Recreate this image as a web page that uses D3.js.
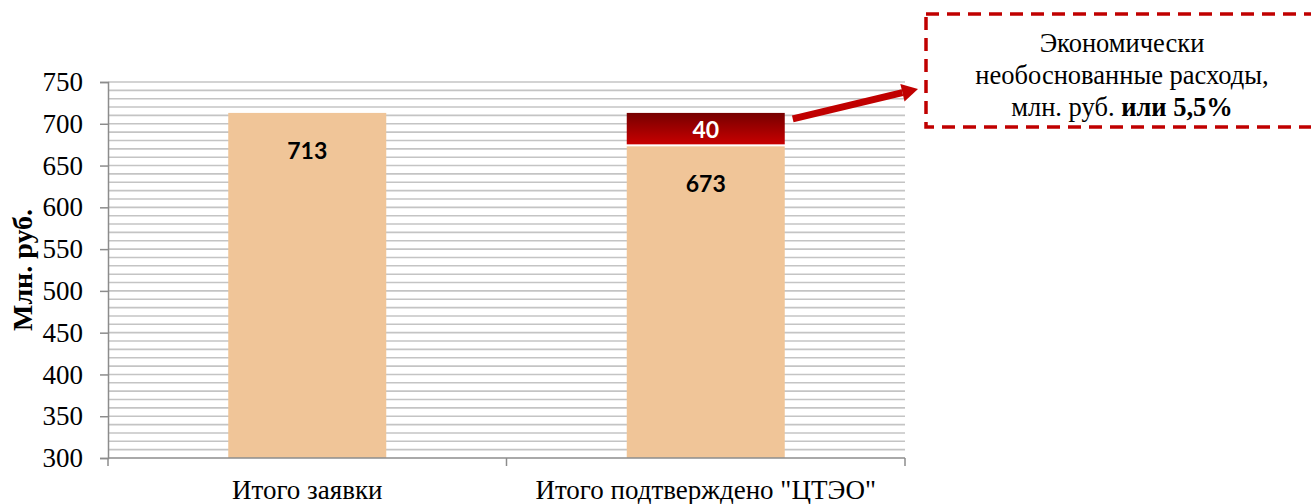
<!DOCTYPE html>
<html>
<head>
<meta charset="utf-8">
<script src="https://cdn.jsdelivr.net/npm/d3@7"></script>
<style>
  body { margin: 0; background: #fff; }
  svg text { font-family: "Liberation Serif", "Times New Roman", serif; }
</style>
</head>
<body>
<div id="chart"></div>
<script>
var categories = ['Итого заявки', 'Итого подтверждено "ЦТЭО"'];
var confirmed = [713, 673];
var excess = [0, 40];
var yTicks = [300, 350, 400, 450, 500, 550, 600, 650, 700, 750];

var W = 1311, H = 504;
var margin = {left: 108, right: 406, top: 82, bottom: 46};
var serif = '"Liberation Serif", "Times New Roman", serif';
var sans = 'Lato, "Open Sans", sans-serif';

var svg = d3.select('#chart').append('svg')
    .attr('width', W).attr('height', H);

var defs = svg.append('defs');
var grad = defs.append('linearGradient').attr('id', 'redgrad')
    .attr('x1', 0).attr('y1', 0).attr('x2', 0).attr('y2', 1);
grad.append('stop').attr('offset', '0%').attr('stop-color', '#760000');
grad.append('stop').attr('offset', '100%').attr('stop-color', '#c80000');

var x = d3.scaleBand().domain(categories)
    .range([margin.left, W - margin.right]).paddingInner(0.6).paddingOuter(0.3);
var y = d3.scaleLinear().domain([300, 750]).range([H - margin.bottom, margin.top]);

// gridlines every 10
var g = svg.append('g');
g.selectAll('.grid').data(d3.range(310, 751, 10))
    .enter().append('line')
    .attr('x1', margin.left).attr('x2', W - margin.right)
    .attr('y1', function (d) { return y(d); })
    .attr('y2', function (d) { return y(d); })
    .attr('stroke', '#c4c4c4').attr('stroke-width', 1.6);

// bars
var bw = 158;
g.selectAll('.bar').data(categories).enter().append('rect')
    .attr('x', function (d) { return x(d) + x.bandwidth() / 2 - bw / 2; })
    .attr('width', bw)
    .attr('y', function (d, i) { return y(confirmed[i]); })
    .attr('height', function (d, i) { return y(300) - y(confirmed[i]); })
    .attr('fill', '#f0c598');

var withExcess = categories.filter(function (d, i) { return excess[i] > 0; });
g.selectAll('.ex').data(withExcess)
    .enter().append('rect')
    .attr('x', function (d) { return x(d) + x.bandwidth() / 2 - bw / 2; })
    .attr('width', bw)
    .attr('y', function (d) { var i = categories.indexOf(d); return y(confirmed[i] + excess[i]); })
    .attr('height', function (d) { var i = categories.indexOf(d); return y(confirmed[i]) - y(confirmed[i] + excess[i]) - 2; })
    .attr('fill', 'url(#redgrad)');

// value labels
g.selectAll('.lbl').data(categories).enter().append('text')
    .attr('x', function (d) { return x(d) + x.bandwidth() / 2; })
    .attr('y', function (d, i) { return y(confirmed[i]) + 46; })
    .attr('text-anchor', 'middle')
    .style('font-family', sans).style('font-weight', 'bold')
    .style('font-size', '23px')
    .text(function (d, i) { return confirmed[i]; });

g.selectAll('.exl').data(withExcess)
    .enter().append('text')
    .attr('x', function (d) { return x(d) + x.bandwidth() / 2; })
    .attr('y', function (d) { var i = categories.indexOf(d); return y(confirmed[i] + excess[i] / 2) + 8; })
    .attr('text-anchor', 'middle').attr('fill', '#fff')
    .style('font-family', sans).style('font-weight', 'bold')
    .style('font-size', '23px')
    .text(function (d) { return excess[categories.indexOf(d)]; });

// axes
var yAxis = svg.append('g').attr('transform', 'translate(' + margin.left + ',0)')
    .call(d3.axisLeft(y).tickValues(yTicks).tickSize(8).tickPadding(17));
yAxis.select('.domain').attr('stroke', '#8c8c8c').attr('stroke-width', 1.5);
yAxis.selectAll('.tick line').attr('stroke', '#8c8c8c').attr('stroke-width', 1.5);
yAxis.selectAll('.tick text').style('font-size', '27px').attr('fill', '#000')
    .style('font-family', serif);

var xAxis = svg.append('g').attr('transform', 'translate(0,' + y(300) + ')');
xAxis.append('line').attr('x1', margin.left).attr('x2', W - margin.right)
    .attr('stroke', '#8c8c8c').attr('stroke-width', 1.5);
var bounds = [margin.left, margin.left + (W - margin.left - margin.right) / 2, W - margin.right];
xAxis.selectAll('.xt').data(bounds).enter().append('line')
    .attr('x1', function (d) { return d; }).attr('x2', function (d) { return d; })
    .attr('y1', 0).attr('y2', 8)
    .attr('stroke', '#8c8c8c').attr('stroke-width', 1.5);
xAxis.selectAll('.xl').data(categories).enter().append('text')
    .attr('x', function (d) { return x(d) + x.bandwidth() / 2; })
    .attr('y', 41)
    .attr('text-anchor', 'middle')
    .style('font-family', serif)
    .style('font-size', '27px')
    .text(function (d) { return d; });

// y title
svg.append('text')
    .attr('transform', 'translate(32,' + ((y(300) + y(750)) / 2) + ') rotate(-90)')
    .attr('text-anchor', 'middle')
    .style('font-family', serif)
    .style('font-size', '28px').style('font-weight', 'bold')
    .text('Млн. руб.');

// arrow to annotation
var c2 = categories[1];
var ax1 = x(c2) + x.bandwidth() / 2 + bw / 2 + 8, ay1 = y(confirmed[1] + excess[1]) + 6;
var ax2 = 918, ay2 = 89;
var ang = Math.atan2(ay2 - ay1, ax2 - ax1);
var headLen = 16, headW = 9;
var bx = ax2 - headLen * Math.cos(ang), by = ay2 - headLen * Math.sin(ang);
svg.append('line').attr('x1', ax1).attr('y1', ay1).attr('x2', bx).attr('y2', by)
    .attr('stroke', '#c00000').attr('stroke-width', 7);
svg.append('path')
    .attr('d', 'M' + ax2 + ',' + ay2 +
        'L' + (bx + headW * Math.sin(ang)) + ',' + (by - headW * Math.cos(ang)) +
        'L' + (bx - headW * Math.sin(ang)) + ',' + (by + headW * Math.cos(ang)) + 'Z')
    .attr('fill', '#c00000');

// annotation box
svg.append('rect').attr('x', 926).attr('y', 14).attr('width', 420).attr('height', 113)
    .attr('fill', 'none').attr('stroke', '#c00000').attr('stroke-width', 3.5)
    .attr('stroke-dasharray', '13,8');
var note = svg.append('text').attr('text-anchor', 'middle')
    .style('font-family', serif).style('font-size', '26.5px');
note.append('tspan').attr('x', 1122).attr('y', 52).text('Экономически');
note.append('tspan').attr('x', 1122).attr('y', 84).text('необоснованные расходы,');
var l3 = note.append('tspan').attr('x', 1122).attr('y', 116);
l3.append('tspan').text('млн. руб. ');
l3.append('tspan').style('font-weight', 'bold').text('или 5,5%');
</script>
</body>
</html>
